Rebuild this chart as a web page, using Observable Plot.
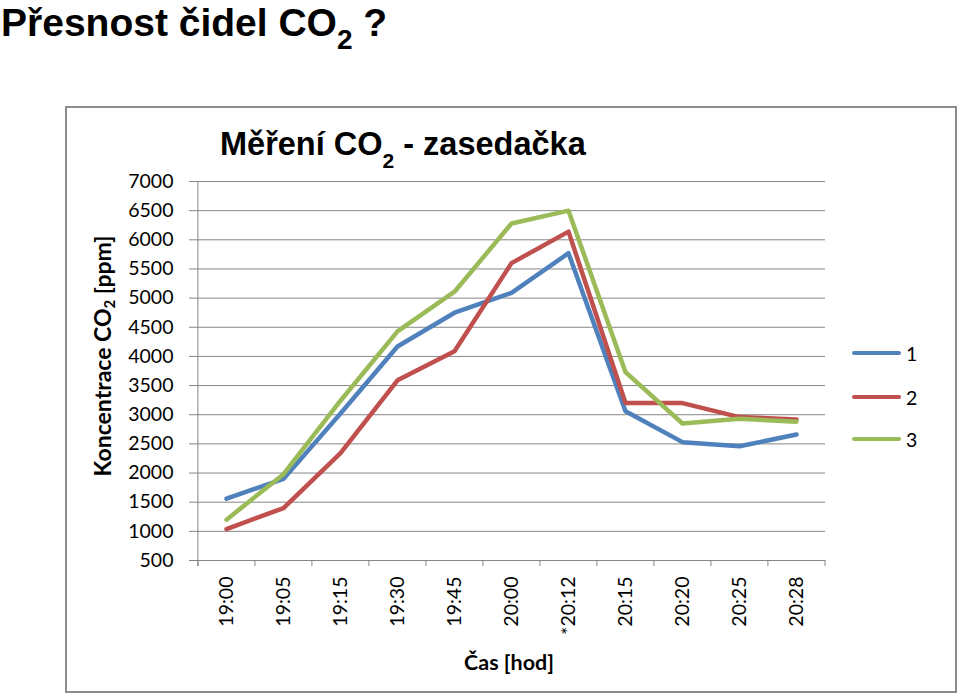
<!DOCTYPE html>
<html>
<head>
<meta charset="utf-8">
<script src="https://cdn.jsdelivr.net/npm/d3@7"></script>
<script src="https://cdn.jsdelivr.net/npm/@observablehq/plot@0.6"></script>
<style>
  html, body { margin: 0; padding: 0; background: #fff; }
  body { width: 960px; height: 695px; position: relative; overflow: hidden; }
  .abs { position: absolute; white-space: nowrap; }
  #pageTitle { left: 1px; top: 2.5px; font: bold 39px "Liberation Sans", Arial, sans-serif; line-height: 39px; color: #000; }
  #pageTitle .sub { font-size: 28px; vertical-align: -13px; }
  #box { left: 65px; top: 106px; width: 892px; height: 587px; box-sizing: border-box; border: 2px solid #8c8c8c; }
  #chartTitle { left: 220px; top: 128px; font: bold 32.5px "Liberation Sans", Arial, sans-serif; line-height: 33px; color: #000; }
  #chartTitle .sub { font-size: 21px; vertical-align: -13px; }
  #yTitle { left: 106px; top: 356px; transform: translate(-50%, -50%) rotate(-90deg); font: bold 23px Lato, sans-serif; line-height: 23px; }
  #yTitle .sub { font-size: 15px; vertical-align: -4px; }
  #xTitle { left: 509px; top: 662px; transform: translate(-50%, -50%); font: bold 21.5px Lato, sans-serif; line-height: 22px; }
  .legItem { position: absolute; left: 852px; height: 24px; transform: translateY(-50%); display: flex; align-items: center; font: 19.5px Lato, sans-serif; }
  .legItem .sw { width: 49px; height: 4.5px; border-radius: 2px; margin-right: 5px; }
  #chart { position: absolute; left: 0; top: 0; }
</style>
</head>
<body>
<div id="box" class="abs"></div>
<div id="pageTitle" class="abs">Přesnost čidel CO<span class="sub">2</span> ?</div>
<div id="chartTitle" class="abs">Měření CO<span class="sub">2</span> - zasedačka</div>
<div id="yTitle" class="abs">Koncentrace CO<span class="sub">2</span> [ppm]</div>
<div id="xTitle" class="abs">Čas [hod]</div>
<div id="legend"></div>
<div id="chart"></div>
<script>
// ---- data ----
const times = ["19:00", "19:05", "19:15", "19:30", "19:45", "20:00", "*20:12", "20:15", "20:20", "20:25", "20:28"];
const seriesNames = ["1", "2", "3"];
const sensor1 = [1560, 1900, 3020, 4170, 4750, 5090, 5770, 3060, 2530, 2460, 2660];
const sensor2 = [1040, 1400, 2340, 3590, 4090, 5600, 6140, 3200, 3200, 2960, 2920];
const sensor3 = [1200, 1980, 3240, 4430, 5110, 6280, 6500, 3730, 2850, 2930, 2880];
const yTicks = [500, 1000, 1500, 2000, 2500, 3000, 3500, 4000, 4500, 5000, 5500, 6000, 6500, 7000];
const seriesColors = ["#4F81BD", "#C0504D", "#9BBB59"];

const allSeries = [sensor1, sensor2, sensor3];
const data = seriesNames.flatMap((s, k) => times.map((t, i) => ({time: t, series: s, value: allSeries[k][i]})));

// ---- layout ----
const W = 960, H = 695;
const mL = 196, mR = 135, mT = 181, mB = 135;
const step = (W - mL - mR) / times.length;
const gridColor = "#868686";

const chart = Plot.plot({
  width: W, height: H,
  marginLeft: mL, marginRight: mR, marginTop: mT, marginBottom: mB,
  style: {fontFamily: "Lato, sans-serif", fontSize: "19.5px", color: "#000", background: "transparent", overflow: "visible"},
  x: {type: "point", domain: times, padding: 0.5, label: null},
  y: {domain: [500, 7000], label: null},
  color: {domain: seriesNames, range: seriesColors},
  marks: [
    Plot.ruleY(yTicks, {stroke: gridColor, strokeWidth: 1}),
    Plot.ruleX([times[0]], {dx: -step / 2, y1: 7000, y2: 500, insetBottom: -6, stroke: gridColor, strokeWidth: 1}),
    Plot.axisY({ticks: yTicks, tickSize: 7, tickPadding: 16, stroke: gridColor, tickFormat: d => String(d), label: null, fontSize: 19.5}),
    Plot.axisX({ticks: times, tickSize: 6, dx: -step / 2, tickFormat: () => "", stroke: gridColor, label: null}),
    Plot.axisX([times[times.length - 1]], {tickSize: 6, dx: step / 2, tickFormat: () => "", stroke: gridColor, label: null}),
    Plot.axisX({ticks: times, tickSize: 0, tickPadding: 16, tickRotate: -90, label: null, fontSize: 19.5}),
    Plot.line(data, {x: "time", y: "value", z: "series", stroke: "series", strokeWidth: 4.5, strokeLinejoin: "round", strokeLinecap: "round"})
  ]
});
document.getElementById("chart").appendChild(chart);

// ---- legend ----
const legendY = [353, 397, 439];
const legend = document.getElementById("legend");
seriesNames.forEach((s, k) => {
  const item = document.createElement("div");
  item.className = "legItem";
  item.style.top = legendY[k] + "px";
  const sw = document.createElement("div");
  sw.className = "sw";
  sw.style.background = seriesColors[k];
  const lab = document.createElement("span");
  lab.textContent = s;
  item.appendChild(sw);
  item.appendChild(lab);
  legend.appendChild(item);
});
</script>
</body>
</html>
